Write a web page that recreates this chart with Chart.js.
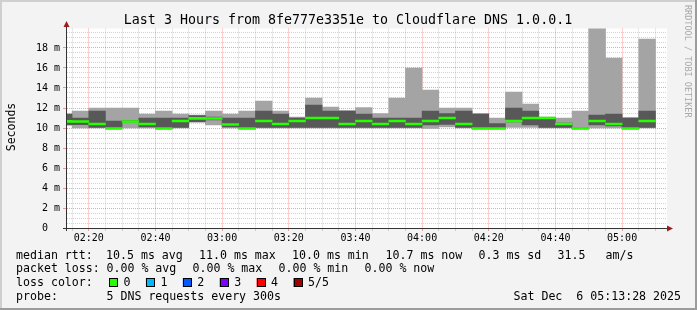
<!DOCTYPE html>
<html>
<head>
<meta charset="utf-8">
<script src="https://cdn.jsdelivr.net/npm/chart.js@4.4.1/dist/chart.umd.min.js"></script>
<style>
  html, body { margin: 0; padding: 0; background: #f3f3f3; }
  #wrap { width: 697px; height: 310px; }
</style>
</head>
<body>
<div id="wrap"><canvas id="smoke" width="697" height="310"></canvas></div>
<script>
// 5 minute bins (start time of each bin), first one is only partly visible
const binStarts = [
    '02:10', '02:15', '02:20', '02:25', '02:30', '02:35', '02:40', '02:45', '02:50', '02:55',
    '03:00', '03:05', '03:10', '03:15', '03:20', '03:25', '03:30', '03:35', '03:40', '03:45',
    '03:50', '03:55', '04:00', '04:05', '04:10', '04:15', '04:20', '04:25', '04:30', '04:35',
    '04:40', '04:45', '04:50', '04:55', '05:00', '05:05'
];

// sorted pings per bin, in ms (ping 1, 2, 4, 5) and the median (ping 3)
const pingMin = [
    10.3, 10.0, 10.0, 9.9, 10.0, 10.0, 9.9, 10.0, 10.6, 10.3,
    10.0, 9.9, 10.0, 10.0, 10.0, 10.0, 10.0, 10.0, 10.0, 10.0,
    10.0, 10.0, 9.95, 10.1, 10.0, 9.9, 9.9, 10.05, 10.05, 10.0,
    10.0, 9.9, 10.0, 10.0, 9.9, 10.0
];
const pingLow = [
    10.3, 10.33, 10.05, 10.05, 10.6, 10.1, 9.95, 10.05, 10.6, 10.8,
    10.1, 9.95, 10.05, 10.05, 10.05, 10.05, 10.05, 10.05, 10.05, 10.05,
    10.05, 10.05, 10.3, 10.35, 10.05, 9.95, 9.95, 10.6, 10.3, 10.05,
    10.05, 9.95, 10.3, 10.2, 9.95, 10.05
];
const pingHigh = [
    11.4, 11.0, 11.7, 10.7, 10.75, 11.0, 11.0, 11.0, 11.25, 11.1,
    11.0, 11.0, 11.7, 11.4, 11.0, 12.3, 11.7, 11.7, 11.4, 11.0,
    11.0, 11.0, 11.7, 11.45, 11.7, 11.4, 10.45, 12.0, 11.7, 11.05,
    10.5, 10.0, 11.3, 11.4, 11.0, 11.7
];
const pingMax = [
    11.4, 11.7, 12.0, 12.0, 12.0, 11.4, 11.7, 11.4, 11.3, 11.7,
    11.4, 11.7, 12.7, 11.7, 11.1, 13.0, 12.1, 11.75, 12.05, 11.45,
    13.0, 16.0, 13.8, 12.0, 12.0, 11.45, 11.0, 13.6, 12.4, 11.1,
    11.0, 11.7, 20.5, 17.0, 11.05, 18.9
];
const medianRtt = [
    10.67, 10.65, 10.4, 9.95, 10.65, 10.4, 9.95, 10.7, 10.97, 10.95,
    10.35, 9.95, 10.7, 10.4, 10.7, 11.0, 11.0, 10.4, 10.7, 10.4,
    10.7, 10.4, 10.7, 11.0, 10.4, 9.95, 9.95, 10.7, 11.0, 11.0,
    10.4, 9.95, 10.7, 10.4, 9.95, 10.7
];

const windowStart = '02:13:28';
const windowEnd = '05:13:28';
const yTop = 19.95;

const title = 'Last 3 Hours from 8fe777e3351e to Cloudflare DNS 1.0.0.1';
const lossColors = ['#26ff00', '#00b8ff', '#0059ff', '#7e00ff', '#ff0000', '#a10000'];
const lossLabels = ['0', '1', '2', '3', '4', '5/5'];

const MAJOR = 'rgba(255, 0, 0, 0.38)';
const MINOR = 'rgba(140, 140, 140, 0.38)';
const MONO = '"DejaVu Sans Mono", monospace';

function toMin(s) {
    const p = s.split(':').map(Number);
    return p[0] * 60 + p[1] + (p[2] || 0) / 60;
}

function hhmm(v) {
    const h = Math.floor(v / 60), m = Math.round(v % 60);
    return String(h).padStart(2, '0') + ':' + String(m).padStart(2, '0');
}

const xMin = toMin(windowStart);
const xMax = toMin(windowEnd);
const centers = binStarts.map(s => toMin(s) + 2.5);

let xGrid = [];
for (let v = 135; v < xMax; v += 5) xGrid.push(v);
let yGrid = [];
for (let v = 0; v < yTop; v += 0.5) yGrid.push(v);

const isMajorX = v => Math.abs(v % 20) < 1e-6;
const isMajorY = v => Math.abs(v % 2) < 1e-6;

function band(lo, hi) {
    return centers.map((x, i) => ({ x: x, y: [lo[i], hi[i]] }));
}

const barCommon = {
    grouped: false,
    barPercentage: 1,
    categoryPercentage: 1,
    borderWidth: 0
};

const legendRows = [
    [['median rtt:', 16], ['10.5 ms avg', 106], ['11.0 ms max', 199], ['10.0 ms min', 292],
     ['10.7 ms now', 385.5], ['0.3 ms sd', 478.5], ['31.5', 557.5], ['am/s', 605.5]],
    [['packet loss:', 16], ['0.00 % avg', 106.5], ['0.00 % max', 192.5], ['0.00 % min', 278.5],
     ['0.00 % now', 364.5]],
    [['loss color:', 16]],
    [['probe:', 16], ['5 DNS requests every 300s', 106.5]]
];

const decor = {
    id: 'decor',
    beforeDraw(chart) {
        const { ctx, chartArea: a } = chart;
        ctx.save();
        ctx.fillStyle = '#f3f3f3';
        ctx.fillRect(0, 0, chart.width, chart.height);
        ctx.fillStyle = '#ffffff';
        ctx.fillRect(a.left, a.top, a.right - a.left, a.bottom - a.top);
        ctx.restore();
    },
    afterDraw(chart) {
        const { ctx, chartArea: a } = chart;
        ctx.save();

        // axes with arrows
        ctx.strokeStyle = '#333';
        ctx.lineWidth = 1;
        ctx.beginPath();
        ctx.moveTo(a.left - 0.5, a.bottom + 3);
        ctx.lineTo(a.left - 0.5, 24);
        ctx.moveTo(a.left - 4, a.bottom + 0.5);
        ctx.lineTo(a.right + 2, a.bottom + 0.5);
        ctx.stroke();
        ctx.fillStyle = '#9b1c1c';
        ctx.beginPath();
        ctx.moveTo(a.left - 0.5, 21);
        ctx.lineTo(a.left - 3.5, 27);
        ctx.lineTo(a.left + 2.5, 27);
        ctx.closePath();
        ctx.fill();
        ctx.beginPath();
        ctx.moveTo(a.right + 6, a.bottom + 0.5);
        ctx.lineTo(a.right, a.bottom - 2.5);
        ctx.lineTo(a.right, a.bottom + 3.5);
        ctx.closePath();
        ctx.fill();

        // title
        ctx.fillStyle = '#000';
        ctx.font = '13.3px ' + MONO;
        ctx.textAlign = 'center';
        ctx.textBaseline = 'alphabetic';
        ctx.fillText(title, 348, 24);

        // y axis title
        ctx.save();
        ctx.translate(15, 127);
        ctx.rotate(-Math.PI / 2);
        ctx.font = '11.5px ' + MONO;
        ctx.fillText('Seconds', 0, 0);
        ctx.restore();

        // legend
        ctx.textAlign = 'left';
        ctx.font = '11.6px ' + MONO;
        const base = [258.5, 272.3, 286.2, 300.1];
        legendRows.forEach((row, r) => {
            row.forEach(([txt, x]) => ctx.fillText(txt, x, base[r]));
        });
        lossColors.forEach((c, i) => {
            const x = 109 + i * 36.9;
            ctx.fillStyle = c;
            ctx.fillRect(x, 278, 9, 9);
            ctx.strokeStyle = '#000';
            ctx.strokeRect(Math.round(x) + 0.5, 278.5, 8, 8);
            ctx.fillStyle = '#000';
            ctx.fillText(lossLabels[i], x + 14.5, base[2]);
        });
        ctx.textAlign = 'right';
        ctx.fillText('Sat Dec  6 05:13:28 2025', 681, base[3]);

        // watermark
        ctx.save();
        ctx.translate(685, 5);
        ctx.rotate(Math.PI / 2);
        ctx.textAlign = 'left';
        ctx.font = '8.5px ' + MONO;
        ctx.fillStyle = '#a8a8a8';
        ctx.fillText('RRDTOOL / TOBI OETIKER', 0, 0);
        ctx.restore();

        // frame
        ctx.fillStyle = '#cfcfcf';
        ctx.fillRect(0, 0, chart.width, 2);
        ctx.fillRect(0, 0, 2, chart.height);
        ctx.fillStyle = '#9c9c9c';
        ctx.fillRect(0, chart.height - 2, chart.width, 2);
        ctx.fillRect(chart.width - 2, 0, 2, chart.height);

        ctx.restore();
    }
};

new Chart(document.getElementById('smoke'), {
    type: 'bar',
    data: {
        datasets: [
            Object.assign({ label: 'median rtt', order: 1, backgroundColor: lossColors[0],
                data: centers.map((x, i) => ({ x: x, y: [medianRtt[i] - 0.1, medianRtt[i] + 0.1] })) }, barCommon),
            Object.assign({ label: 'ping 2-4', order: 2, backgroundColor: '#585858',
                data: band(pingLow, pingHigh) }, barCommon),
            Object.assign({ label: 'ping 1-5', order: 3, backgroundColor: '#a4a4a4',
                data: band(pingMin, pingMax) }, barCommon)
        ]
    },
    options: {
        responsive: false,
        animation: false,
        devicePixelRatio: 1,
        events: [],
        layout: { padding: { left: 0, right: 30, top: 28.5, bottom: 62 } },
        plugins: { legend: { display: false }, tooltip: { enabled: false }, title: { display: false } },
        scales: {
            x: {
                type: 'linear',
                min: xMin,
                max: xMax,
                bounds: 'data',
                offset: false,
                z: 1,
                afterBuildTicks: s => { s.ticks = xGrid.map(v => ({ value: v })); },
                afterFit: s => { s.height = 20; },
                grid: {
                    offset: false,
                    lineWidth: 1,
                    tickLength: 3,
                    color: c => (c.tick && isMajorX(c.tick.value)) ? MAJOR : MINOR,
                    tickColor: c => (c.tick && isMajorX(c.tick.value)) ? MAJOR : MINOR
                },
                border: { display: false, dash: [1, 1] },
                ticks: {
                    autoSkip: false,
                    maxRotation: 0,
                    padding: 1,
                    color: '#000',
                    font: { family: MONO, size: 10 },
                    callback: v => isMajorX(v) ? hhmm(v) : ''
                }
            },
            y: {
                min: 0,
                max: yTop,
                bounds: 'data',
                z: 1,
                afterBuildTicks: s => { s.ticks = yGrid.map(v => ({ value: v })); },
                afterFit: s => { s.width = 67; },
                grid: {
                    lineWidth: 1,
                    tickLength: 4,
                    color: c => (c.tick && isMajorY(c.tick.value)) ? MAJOR : MINOR,
                    tickColor: c => (c.tick && isMajorY(c.tick.value)) ? MAJOR : 'rgba(0,0,0,0)'
                },
                border: { display: false, dash: [1, 1] },
                ticks: {
                    autoSkip: false,
                    padding: 3,
                    color: '#000',
                    font: { family: MONO, size: 10 },
                    callback: v => isMajorY(v) ? (v === 0 ? '0  ' : v + ' m') : ''
                }
            }
        }
    },
    plugins: [decor]
});
</script>
</body>
</html>
